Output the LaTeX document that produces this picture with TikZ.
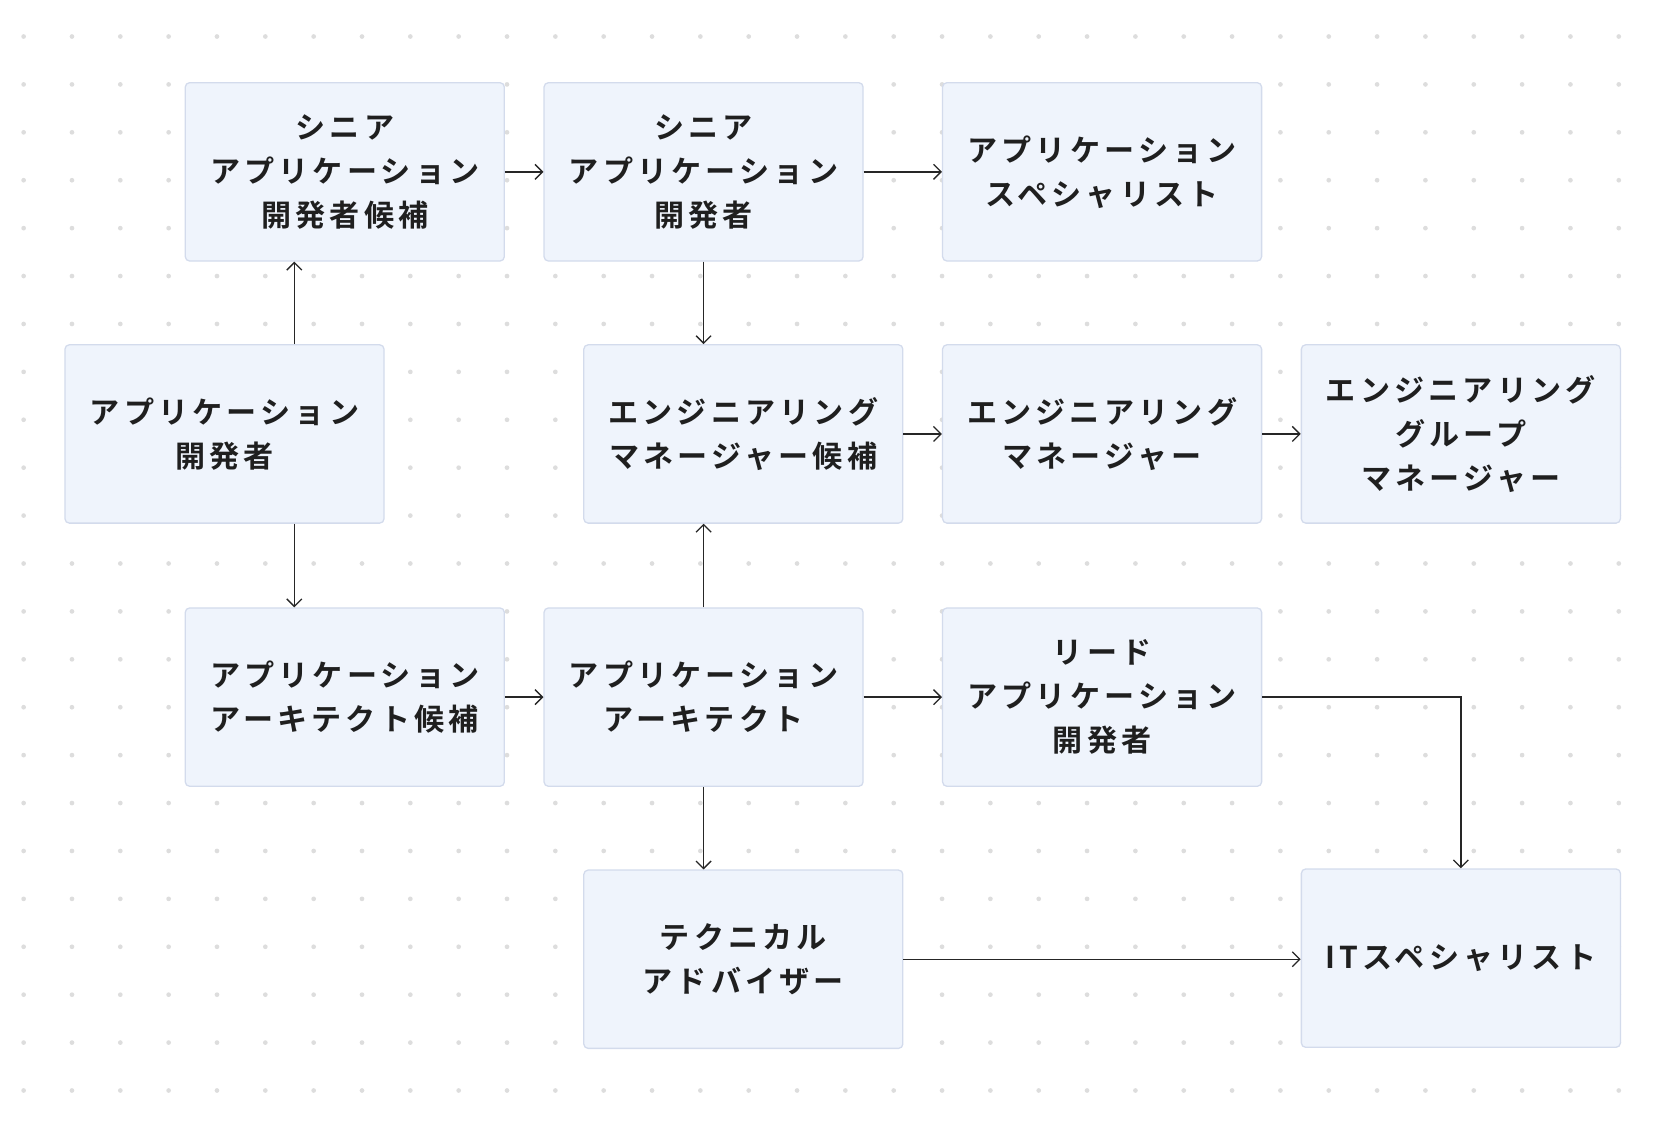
\documentclass[tikz,border=0pt]{standalone}
\usepackage{fontspec}
\setmainfont{Noto Sans CJK JP}[BoldFont={* Bold},LetterSpace=14]
\usetikzlibrary{arrows.meta,positioning}

\tikzset{
  box/.style={draw=boxline,fill=boxfill,rounded corners=2pt,line width=0.6pt,
    minimum width=148.5pt,minimum height=83pt,align=center,inner sep=0pt,
    font=\fontsize{14}{20.5}\selectfont\bfseries,text=black!88},
  arr/.style={-{Straight Barb[length=3.5pt,width=7pt]},line width=0.6pt,black!85}
}
\definecolor{boxfill}{HTML}{EFF4FC}
\definecolor{boxline}{HTML}{D3DBEC}
\definecolor{dotcol}{HTML}{DDDDDD}

\begin{document}
\begin{tikzpicture}[x=0.5pt,y=-0.5pt]
        \useasboundingbox (0,0) rectangle (1564,1052);
        % background dots
        \foreach \i in {0,...,33} \foreach \j in {0,...,22}
          \fill[dotcol] (22+45*\i,34+44.6*\j) circle (2.2);
        % nodes
        \node[box] (candsr) at (321,160) {シニア\\アプリケーション\\開発者候補};
        \node[box] (sr) at (655,160) {シニア\\アプリケーション\\開発者};
        \node[box] (spec) at (1026,160) {アプリケーション\\スペシャリスト};
        \node[box] (dev) at (209,404) {アプリケーション\\開発者};
        \node[box] (candem) at (692,404) {エンジニアリング\\マネージャー候補};
        \node[box] (em) at (1026,404) {エンジニアリング\\マネージャー};
        \node[box] (egm) at (1360,404) {エンジニアリング\\グループ\\マネージャー};
        \node[box] (candarch) at (321,649) {アプリケーション\\アーキテクト候補};
        \node[box] (arch) at (655,649) {アプリケーション\\アーキテクト};
        \node[box] (lead) at (1026,649) {リード\\アプリケーション\\開発者};
        \node[box] (tech) at (692,893) {テクニカル\\アドバイザー};
        \node[box] (itspec) at (1360,892) {ITスペシャリスト};
        \coordinate (colL) at (274,0);
        \coordinate (colM) at (655,0);
        % connectors
        \draw[arr] (colL |- dev.north) -- (colL |- candsr.south);
        \draw[arr] (colL |- dev.south) -- (colL |- candarch.north);
        \draw[arr] (candsr) -- (sr);
        \draw[arr] (sr) -- (spec);
        \draw[arr] (sr.south) -- (colM |- candem.north);
        \draw[arr] (candem) -- (em);
        \draw[arr] (em) -- (egm);
        \draw[arr] (candarch) -- (arch);
        \draw[arr] (arch.north) -- (colM |- candem.south);
        \draw[arr] (arch) -- (lead);
        \draw[arr] (arch.south) -- (colM |- tech.north);
        \draw[arr] (lead.east) -| (itspec.north);
        \draw[arr] (tech.east) -- (tech.east -| itspec.west);
\end{tikzpicture}
\end{document}
